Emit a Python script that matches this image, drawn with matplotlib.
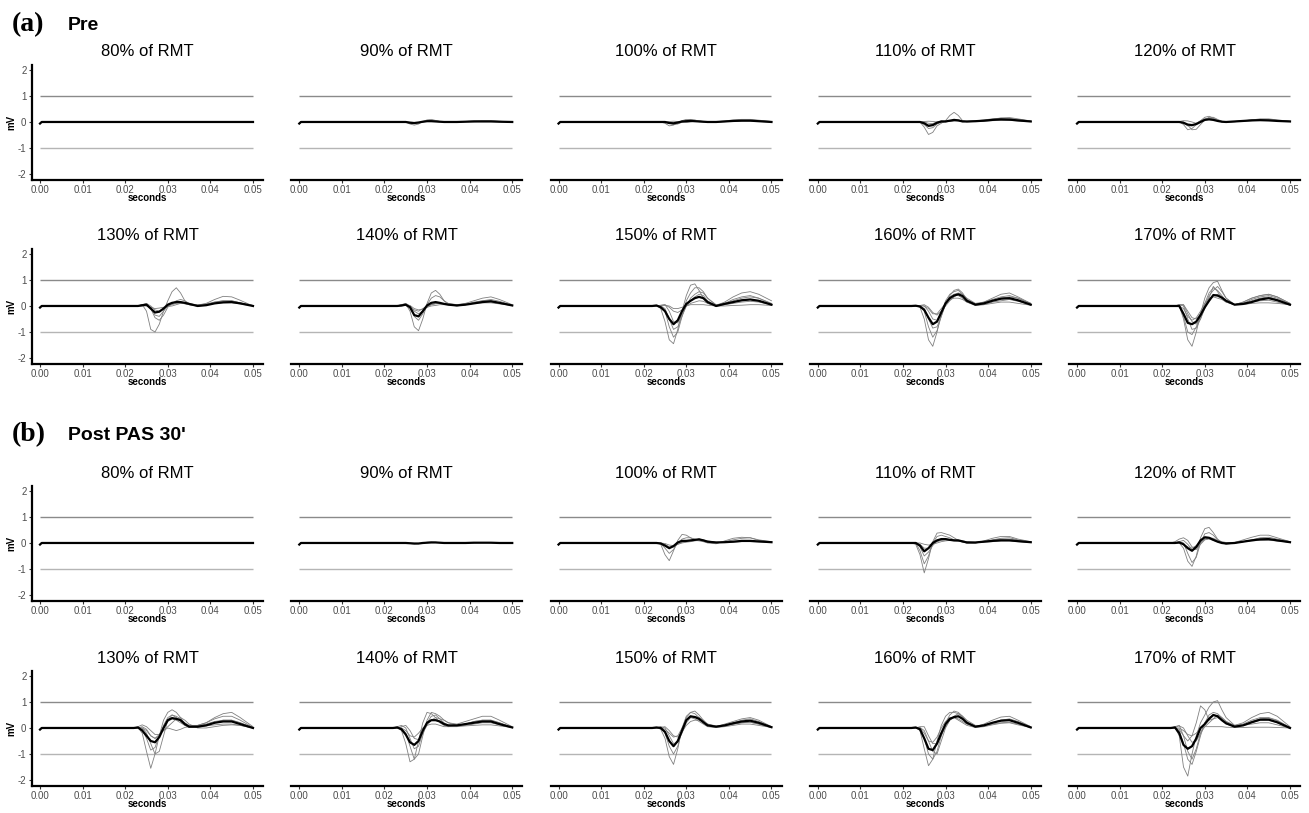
import matplotlib
matplotlib.use("Agg")
import matplotlib.pyplot as plt

# ---------------- data ----------------
LEVELS = ["80% of RMT", "90% of RMT", "100% of RMT", "110% of RMT", "120% of RMT",
          "130% of RMT", "140% of RMT", "150% of RMT", "160% of RMT", "170% of RMT"]
SECTION_TAGS = ["(a)", "(b)"]
SECTION_NAMES = ["Pre", "Post PAS 30'"]
X_TICKS = [0.00, 0.01, 0.02, 0.03, 0.04, 0.05]
X_TICK_LABELS = ["0.00", "0.01", "0.02", "0.03", "0.04", "0.05"]
Y_TICKS = [-2, -1, 0, 1, 2]
Y_TICK_LABELS = ["-2", "-1", "0", "1", "2"]
REF_LEVELS = [1, -1]

ONSET_T = [0.0, 0.0004]
ONSET_MV = [-0.06, 0.0]
TIME = [0.022, 0.023, 0.024, 0.025, 0.026, 0.027, 0.028, 0.029, 0.030, 0.031, 0.032,
        0.033, 0.034, 0.035, 0.037, 0.039, 0.041, 0.043, 0.045, 0.047, 0.050]

# each panel: first trace = mean (black), rest = single trials (grey)
pre_080 = [
    [0,0,0,0,0,0,0,0,0,0,0,0,0,0,0,0,0,0,0,0,0],
    [0,0,0,0,0,0.01,0.01,0.02,0.02,0.01,0,0,0,0,0,0.01,0.01,0.01,0.01,0,0],
    [0,0,0,0,-0.01,-0.02,-0.01,0,0.01,0.01,0.01,0,0,0,0,0,0,0,0,0,0],
]
pre_090 = [
    [0,0,0,0,-0.03,-0.04,-0.02,0.01,0.03,0.03,0.02,0.01,0,0,0,0.01,0.02,0.02,0.02,0.01,0],
    [0,0,0,0,-0.08,-0.12,-0.08,0.02,0.08,0.1,0.06,0.02,0,0,0,0.02,0.04,0.05,0.04,0.02,0],
    [0,0,0,0,-0.02,-0.05,-0.04,0,0.04,0.06,0.05,0.02,0.01,0,0,0.02,0.03,0.04,0.05,0.03,0],
    [0,0,0,0,0,-0.02,-0.03,0,0.02,0.03,0.02,0,0,0,0,0.01,0.01,0.02,0.02,0.01,0],
]
pre_100 = [
    [0,0,0,0,-0.04,-0.05,-0.02,0.02,0.03,0.04,0.03,0.02,0.01,0,0,0.02,0.04,0.05,0.05,0.03,0],
    [0,0,0,-0.05,-0.15,-0.12,-0.03,0.05,0.1,0.08,0.04,0.01,0,0,0.01,0.04,0.08,0.1,0.1,0.07,0.02],
    [0,0,0,0,-0.05,-0.1,-0.08,0,0.06,0.1,0.08,0.03,0.01,0,0,0.02,0.05,0.07,0.07,0.05,0],
    [0,0,0,0,0.02,0.03,0.02,0,-0.02,0,0.03,0.04,0.02,0,0,0.02,0.03,0.05,0.06,0.05,0.02],
    [0,0,0,0,-0.02,-0.05,-0.05,-0.02,0.02,0.04,0.05,0.04,0.02,0.01,0,0.01,0.03,0.04,0.04,0.02,0],
]
pre_110 = [
    [0,0,0,-0.05,-0.15,-0.12,-0.03,0.02,0.02,0.05,0.08,0.06,0.02,0.02,0.03,0.05,0.08,0.1,0.09,0.06,0.02],
    [0,0,0,-0.2,-0.48,-0.4,-0.15,-0.05,0.05,0.25,0.37,0.25,0.05,0,0.02,0.05,0.1,0.12,0.1,0.06,0.02],
    [0,0,0,-0.1,-0.25,-0.22,-0.08,0,0,0.03,0.08,0.08,0.04,0.02,0.04,0.08,0.12,0.15,0.14,0.1,0.03],
    [0,0,0,-0.05,-0.12,-0.1,-0.02,0.03,0.02,0.02,0.05,0.06,0.04,0.02,0.02,0.05,0.1,0.15,0.17,0.12,0.04],
    [0,0,0,0,-0.05,-0.06,0,0.04,0.03,0.02,0.03,0.04,0.03,0.02,0.03,0.04,0.06,0.07,0.07,0.05,0.02],
    [0,0,0,0.02,0.03,0.02,0,-0.02,0.02,0.05,0.06,0.05,0.02,0.01,0.02,0.03,0.05,0.06,0.06,0.04,0.02],
]
pre_120 = [
    [0,0,0,-0.03,-0.1,-0.12,-0.08,0,0.08,0.1,0.08,0.04,0.01,0,0.02,0.04,0.06,0.07,0.06,0.04,0.02],
    [0,0,0.02,-0.1,-0.3,-0.25,-0.1,0.05,0.18,0.22,0.15,0.06,0,0,0.02,0.05,0.08,0.1,0.08,0.05,0.02],
    [0,0,0,0,-0.12,-0.3,-0.28,-0.1,0.08,0.18,0.18,0.1,0.03,0,0.02,0.04,0.07,0.09,0.09,0.06,0.02],
    [0,0,0.02,0.05,0.04,0,-0.05,0.03,0.1,0.12,0.1,0.05,0.02,0,0.01,0.03,0.05,0.07,0.08,0.06,0.03],
    [0,0,0,-0.05,-0.15,-0.15,-0.05,0.05,0.12,0.15,0.12,0.06,0.02,0,0.01,0.04,0.08,0.12,0.12,0.08,0.03],
]
pre_130 = [
    [0,0,0.03,0.05,-0.1,-0.25,-0.22,-0.1,0.05,0.12,0.15,0.15,0.12,0.08,0,0.03,0.1,0.14,0.15,0.1,0.0],
    [0,0,0.05,-0.2,-0.9,-1.0,-0.7,-0.2,0.2,0.55,0.7,0.5,0.2,0.05,0,0.05,0.15,0.2,0.2,0.12,0],
    [0,0,0.05,0.08,-0.1,-0.45,-0.55,-0.35,-0.05,0.1,0.2,0.25,0.2,0.1,0.02,0.1,0.25,0.37,0.35,0.22,0],
    [0,0,0,0.05,-0.05,-0.35,-0.4,-0.2,0,0.1,0.15,0.12,0.08,0.05,0,0.05,0.1,0.12,0.12,0.08,0],
    [0,0,0.05,0.1,0,-0.15,-0.2,-0.1,0,0.05,0.1,0.12,0.1,0.05,0.02,0.05,0.1,0.15,0.15,0.1,0.02],
    [0,0,0,0,-0.05,-0.1,-0.08,-0.05,-0.02,0,0.05,0.1,0.1,0.08,0.05,0.08,0.15,0.2,0.2,0.12,0.02],
]
pre_140 = [
    [0,0,0.02,0.05,-0.05,-0.35,-0.4,-0.2,0.02,0.12,0.15,0.12,0.08,0.05,0.02,0.05,0.1,0.15,0.18,0.12,0.02],
    [0,0,0.05,0.08,-0.2,-0.8,-0.95,-0.5,0.1,0.5,0.6,0.45,0.2,0.05,0,0.05,0.15,0.2,0.2,0.12,0.02],
    [0,0,0,0.05,0,-0.4,-0.55,-0.3,0.05,0.3,0.4,0.35,0.2,0.1,0.05,0.1,0.2,0.3,0.35,0.25,0.05],
    [0,0,0.05,0.1,0,-0.2,-0.3,-0.2,-0.05,0.05,0.1,0.1,0.08,0.05,0.02,0.05,0.12,0.2,0.25,0.18,0.03],
    [0,0,0,0.02,-0.05,-0.15,-0.2,-0.1,0,0.05,0.08,0.1,0.1,0.08,0.05,0.08,0.12,0.15,0.15,0.1,0.02],
    [0,0,0.03,0.05,0.02,-0.1,-0.15,-0.12,-0.05,0,0.02,0.05,0.05,0.05,0.03,0.05,0.1,0.12,0.12,0.08,0.02],
]
pre_150 = [
    [0,0.02,-0.05,-0.2,-0.5,-0.7,-0.55,-0.2,0.08,0.2,0.3,0.35,0.3,0.15,0,0.08,0.15,0.22,0.25,0.2,0.05],
    [0,0.02,-0.1,-0.6,-1.3,-1.45,-0.9,-0.2,0.4,0.8,0.85,0.6,0.3,0.1,0,0.1,0.2,0.3,0.35,0.3,0.1],
    [0,0,0.02,-0.2,-0.8,-1.2,-1.0,-0.4,0.2,0.5,0.7,0.7,0.55,0.3,0.02,0.15,0.35,0.5,0.55,0.45,0.2],
    [0,0,0,-0.1,-0.5,-0.9,-0.8,-0.4,0,0.3,0.45,0.55,0.5,0.3,0.05,0.1,0.25,0.35,0.4,0.3,0.08],
    [0,0,0.02,0.05,-0.2,-0.6,-0.65,-0.35,0,0.2,0.35,0.45,0.4,0.2,0,0.08,0.15,0.2,0.25,0.2,0.05],
    [0,0,0.03,0.05,-0.05,-0.2,-0.25,-0.15,0,0.1,0.15,0.2,0.18,0.1,0,0.05,0.1,0.15,0.18,0.15,0.05],
    [0,0,0,0.02,0,-0.1,-0.1,-0.05,0,0.05,0.05,0.05,0.05,0.03,0,0,0.02,0.03,0.05,0.05,0.02],
]
pre_160 = [
    [0,0.01,-0.02,-0.15,-0.45,-0.7,-0.6,-0.25,0.1,0.3,0.4,0.45,0.38,0.2,0.05,0.1,0.2,0.28,0.3,0.22,0.05],
    [0,0.01,-0.05,-0.5,-1.3,-1.55,-1.0,-0.3,0.2,0.45,0.55,0.6,0.45,0.2,0.05,0.1,0.2,0.3,0.3,0.2,0.05],
    [0,0,0,-0.2,-0.8,-1.2,-0.95,-0.4,0.1,0.4,0.6,0.65,0.5,0.25,0.05,0.15,0.3,0.45,0.5,0.35,0.1],
    [0,0,0,-0.1,-0.5,-0.85,-0.8,-0.4,0.05,0.3,0.45,0.5,0.45,0.3,0.1,0.15,0.25,0.35,0.4,0.3,0.1],
    [0,0,0.02,0,-0.2,-0.5,-0.55,-0.25,0.1,0.35,0.45,0.4,0.3,0.15,0.02,0.05,0.15,0.2,0.25,0.18,0.05],
    [0,0,0.02,0.05,-0.05,-0.25,-0.35,-0.2,0,0.2,0.35,0.45,0.4,0.25,0.08,0.1,0.2,0.3,0.35,0.3,0.1],
    [0,0,0,0,-0.1,-0.3,-0.3,-0.1,0.1,0.25,0.3,0.3,0.25,0.15,0.05,0.05,0.1,0.15,0.15,0.1,0.03],
]
pre_170 = [
    [0,0,0,-0.3,-0.65,-0.7,-0.6,-0.35,-0.05,0.2,0.42,0.4,0.32,0.2,0.05,0.08,0.15,0.25,0.3,0.22,0.05],
    [0,0,0.02,-0.5,-1.3,-1.55,-1.0,-0.3,0.3,0.7,0.9,0.95,0.6,0.3,0.05,0.1,0.2,0.3,0.35,0.25,0.05],
    [0,0,0,-0.4,-1.0,-1.1,-0.8,-0.4,0.1,0.5,0.7,0.6,0.4,0.2,0.05,0.15,0.3,0.4,0.45,0.35,0.1],
    [0,0,0.05,0,-0.5,-0.9,-0.85,-0.5,0,0.4,0.6,0.75,0.55,0.3,0.05,0.15,0.3,0.4,0.45,0.35,0.1],
    [0,0,0.05,0.05,-0.3,-0.6,-0.7,-0.5,-0.1,0.3,0.75,0.55,0.3,0.15,0.05,0.1,0.25,0.35,0.4,0.3,0.08],
    [0,0,0.03,0.05,-0.2,-0.45,-0.5,-0.3,0,0.25,0.4,0.45,0.35,0.2,0.05,0.05,0.1,0.12,0.12,0.1,0.05],
    [0,0,0,-0.1,-0.4,-0.55,-0.45,-0.2,0.1,0.3,0.35,0.3,0.25,0.15,0.05,0.08,0.15,0.2,0.22,0.15,0.03],
]

post_080 = [
    [0,0,0,0,0,0,0,0,0,0,0,0,0,0,0,0,0,0,0,0,0],
    [0,0,0,0,0,-0.01,-0.01,0,0.01,0.01,0.01,0,0,0,0,0,0.01,0.01,0,0,0],
]
post_090 = [
    [0,0,0,0,-0.01,-0.02,-0.02,0,0.01,0.02,0.02,0.01,0,0,0,0,0.01,0.01,0.01,0,0],
    [0,0,0,0,-0.02,-0.04,-0.03,0,0.03,0.04,0.03,0.01,0,0,0,0.01,0.01,0.02,0.01,0,0],
]
post_100 = [
    [0,0,-0.02,-0.1,-0.2,-0.12,0.02,0.08,0.08,0.1,0.12,0.14,0.1,0.05,0.02,0.03,0.05,0.08,0.08,0.06,0.03],
    [0,0,-0.05,-0.45,-0.68,-0.3,0.1,0.33,0.3,0.2,0.1,0.08,0.05,0,-0.03,0.08,0.18,0.22,0.2,0.1,0.03],
    [0,0,-0.02,-0.2,-0.4,-0.25,0,0.15,0.2,0.2,0.15,0.12,0.08,0.03,0,0.05,0.12,0.18,0.2,0.12,0.05],
    [0,0,0,-0.05,-0.15,-0.15,-0.05,0.02,0.05,0.08,0.12,0.15,0.12,0.08,0.03,0.03,0.05,0.06,0.06,0.05,0.03],
    [0,0,0,-0.02,-0.08,-0.1,-0.05,0,0.03,0.05,0.08,0.1,0.1,0.05,0.02,0.02,0.03,0.05,0.05,0.04,0.02],
]
post_110 = [
    [0,0,-0.1,-0.32,-0.2,0,0.1,0.15,0.15,0.12,0.1,0.1,0.06,0.02,0.02,0.05,0.08,0.1,0.1,0.07,0.03],
    [0,-0.05,-0.45,-1.15,-0.6,0.05,0.38,0.4,0.35,0.3,0.2,0.1,0.05,0,0,0.05,0.1,0.12,0.1,0.06,0.02],
    [0,0,-0.3,-0.8,-0.5,0,0.25,0.3,0.25,0.2,0.12,0.08,0.03,0,0,0.08,0.18,0.25,0.25,0.15,0.05],
    [0,0,-0.15,-0.5,-0.35,-0.1,0.1,0.15,0.15,0.12,0.1,0.1,0.05,0.02,0,0.05,0.12,0.18,0.2,0.12,0.03],
    [0,0,-0.05,-0.2,-0.2,-0.05,0.05,0.1,0.12,0.12,0.1,0.1,0.08,0.05,0.02,0.05,0.1,0.15,0.15,0.1,0.03],
    [0,0,0,-0.05,-0.08,-0.05,0,0.05,0.08,0.1,0.08,0.06,0.05,0.03,0.02,0.03,0.05,0.08,0.08,0.05,0.02],
]
post_120 = [
    [0,0,0.02,-0.05,-0.2,-0.3,-0.15,0.1,0.22,0.2,0.12,0.05,0,-0.02,0,0.05,0.1,0.14,0.15,0.1,0.03],
    [0,0,0,-0.2,-0.7,-0.9,-0.5,0.2,0.55,0.6,0.4,0.15,0.02,-0.05,0,0.05,0.1,0.15,0.15,0.1,0.03],
    [0,0,0.05,0,-0.4,-0.75,-0.55,0,0.35,0.4,0.3,0.12,0.02,-0.02,0.02,0.12,0.22,0.3,0.3,0.2,0.05],
    [0,0.05,0.15,0.2,0.1,-0.15,-0.2,0,0.15,0.2,0.15,0.05,0,0,0,0.05,0.12,0.2,0.22,0.15,0.05],
    [0,0,0.05,0.1,-0.05,-0.25,-0.25,-0.05,0.12,0.15,0.1,0.05,0.02,0,0,0.05,0.08,0.1,0.1,0.08,0.03],
    [0,0,0,-0.05,-0.15,-0.2,-0.1,0.05,0.15,0.2,0.18,0.1,0.05,0.02,0.02,0.05,0.1,0.12,0.12,0.08,0.03],
]
post_130 = [
    [0,0.02,-0.1,-0.3,-0.5,-0.55,-0.35,0,0.3,0.38,0.35,0.3,0.15,0.05,0.05,0.1,0.2,0.25,0.25,0.15,0],
    [0,0.02,-0.2,-0.9,-1.55,-1.0,-0.3,0.3,0.6,0.7,0.6,0.4,0.15,0.05,0.1,0.2,0.4,0.55,0.6,0.4,0.05],
    [0,0,0,-0.2,-0.6,-1.0,-0.9,-0.3,0.3,0.5,0.45,0.35,0.2,0.1,0.1,0.2,0.35,0.45,0.45,0.3,0.02],
    [0,0,-0.05,-0.4,-0.85,-0.75,-0.3,0.1,0.4,0.5,0.4,0.25,0.1,0.02,0.02,0.1,0.2,0.3,0.3,0.2,0],
    [0,0.05,0.12,0.05,-0.1,-0.25,-0.25,-0.1,0.05,0.2,0.35,0.4,0.3,0.15,0,0,0.05,0.1,0.12,0.1,0],
    [0,0,0.05,-0.05,-0.3,-0.4,-0.25,-0.1,0,-0.05,-0.1,-0.05,0.02,0.05,0.05,0.08,0.12,0.15,0.15,0.1,0],
    [0,0,0,-0.1,-0.3,-0.4,-0.3,0,0.25,0.35,0.3,0.2,0.1,0.05,0.08,0.15,0.25,0.3,0.3,0.2,0.02],
]
post_140 = [
    [0,0.02,-0.05,-0.25,-0.55,-0.65,-0.5,-0.1,0.2,0.3,0.3,0.25,0.15,0.1,0.1,0.15,0.2,0.25,0.25,0.15,0.02],
    [0,0.02,-0.1,-0.6,-1.3,-1.2,-0.5,0.2,0.6,0.55,0.4,0.2,0.1,0.05,0.1,0.15,0.25,0.3,0.3,0.2,0.02],
    [0,0,0,-0.2,-0.7,-1.2,-1.0,-0.3,0.3,0.6,0.55,0.45,0.3,0.2,0.15,0.25,0.35,0.45,0.45,0.3,0.05],
    [0,0.05,0.1,0,-0.4,-0.8,-0.7,-0.2,0.2,0.45,0.5,0.35,0.2,0.1,0.08,0.15,0.25,0.3,0.3,0.2,0.02],
    [0,0,0.05,0.1,-0.1,-0.4,-0.45,-0.2,0.1,0.3,0.4,0.35,0.3,0.2,0.1,0.1,0.15,0.2,0.2,0.12,0.02],
    [0,0,0,-0.1,-0.3,-0.35,-0.2,0,0.1,0.15,0.15,0.1,0.05,0.05,0.05,0.08,0.1,0.12,0.12,0.08,0.02],
]
post_150 = [
    [0,0.02,0,-0.15,-0.5,-0.7,-0.5,-0.1,0.3,0.45,0.42,0.35,0.22,0.1,0.05,0.1,0.18,0.25,0.28,0.2,0.03],
    [0,0.02,-0.05,-0.4,-1.1,-1.4,-0.8,0,0.45,0.6,0.65,0.5,0.3,0.1,0.05,0.1,0.2,0.3,0.35,0.25,0.05],
    [0,0,0,-0.2,-0.7,-1.0,-0.7,-0.1,0.4,0.6,0.55,0.4,0.25,0.1,0.05,0.15,0.25,0.35,0.4,0.3,0.05],
    [0,0,0.05,0,-0.3,-0.6,-0.55,-0.2,0.2,0.4,0.45,0.4,0.3,0.15,0.05,0.08,0.15,0.2,0.22,0.15,0.02],
    [0,0,0.02,0.05,-0.1,-0.3,-0.35,-0.15,0.1,0.25,0.3,0.3,0.25,0.15,0.08,0.1,0.15,0.2,0.22,0.15,0.02],
    [0,0,0,-0.05,-0.2,-0.35,-0.3,0,0.3,0.4,0.35,0.25,0.15,0.05,0.02,0.05,0.1,0.15,0.15,0.1,0.02],
]
post_160 = [
    [0,0.02,-0.05,-0.4,-0.8,-0.85,-0.6,-0.2,0.15,0.35,0.42,0.45,0.35,0.2,0.05,0.1,0.2,0.28,0.3,0.2,0.02],
    [0,0.02,-0.1,-0.8,-1.45,-1.2,-0.5,0.1,0.45,0.6,0.6,0.55,0.4,0.2,0.05,0.1,0.2,0.3,0.3,0.2,0.02],
    [0,0,0,-0.4,-1.0,-1.2,-0.9,-0.3,0.2,0.5,0.65,0.6,0.45,0.25,0.05,0.15,0.3,0.42,0.45,0.3,0.05],
    [0,0,0.02,-0.1,-0.5,-0.9,-1.0,-0.5,0,0.3,0.45,0.55,0.45,0.3,0.1,0.1,0.2,0.3,0.35,0.25,0.05],
    [0,0,0.05,0.05,-0.3,-0.6,-0.6,-0.3,0.05,0.3,0.4,0.35,0.25,0.15,0.05,0.08,0.15,0.2,0.22,0.15,0.02],
    [0,0,0,-0.2,-0.5,-0.55,-0.35,0,0.25,0.4,0.4,0.3,0.2,0.1,0.02,0.05,0.12,0.18,0.2,0.12,0.02],
]
post_170 = [
    [0,0.02,-0.2,-0.65,-0.8,-0.7,-0.4,0,0.15,0.35,0.5,0.45,0.3,0.18,0.05,0.1,0.22,0.32,0.32,0.22,0],
    [0,0.02,-0.3,-1.5,-1.85,-1.0,-0.3,0.2,0.5,0.8,1.0,1.05,0.7,0.4,0.1,0.15,0.3,0.4,0.4,0.3,0.02],
    [0,0,-0.1,-0.6,-1.2,-1.4,-0.9,-0.3,0.2,0.5,0.6,0.55,0.4,0.25,0.1,0.2,0.4,0.55,0.6,0.45,0.05],
    [0,0.05,0.1,-0.3,-0.9,-1.2,-0.8,-0.2,0.2,0.4,0.5,0.45,0.35,0.2,0.05,0.1,0.25,0.35,0.38,0.28,0],
    [0,0,-0.05,-0.3,-0.5,-0.3,0.2,0.85,0.7,0.3,0.35,0.4,0.3,0.15,0.05,0.1,0.2,0.3,0.3,0.2,0],
    [0,0.03,0.08,0,-0.3,-0.55,-0.5,-0.2,0.05,0.2,0.35,0.5,0.4,0.25,0.08,0.1,0.15,0.2,0.2,0.12,0],
    [0,0,0,-0.1,-0.25,-0.3,-0.2,0,0.05,0.05,0.05,0.05,0.05,0.03,0.02,0.02,0.03,0.03,0.03,0.02,0],
]

PRE = [pre_080, pre_090, pre_100, pre_110, pre_120, pre_130, pre_140, pre_150, pre_160, pre_170]
POST = [post_080, post_090, post_100, post_110, post_120, post_130, post_140, post_150, post_160, post_170]

# ---------------- layout ----------------
W, H = 1309, 813
fig = plt.figure(figsize=(W / 100, H / 100), dpi=100)
fig.patch.set_facecolor("white")

SANS = "Liberation Sans"
ROW_TOPS = [65, 249, 486, 671]
AX_H = 115
AX_W = 231
COL_LEFTS = [32 + 259.25 * k for k in range(5)]
XLIM = (-0.00188, 0.05235)
YLIM = (-2.23, 2.19)

full_t = ONSET_T + TIME

for sec, data in enumerate([PRE, POST]):
    for idx, traces in enumerate(data):
        r = sec * 2 + idx // 5
        c = idx % 5
        top = ROW_TOPS[r]
        left = COL_LEFTS[c]
        ax = fig.add_axes([left / W, 1 - (top + AX_H) / H, AX_W / W, AX_H / H])
        ax.set_xlim(*XLIM)
        ax.set_ylim(*YLIM)
        ax.hlines(REF_LEVELS[0], 0, 0.05, color="#8a8a8a", lw=1.0, zorder=1)
        ax.hlines(REF_LEVELS[1], 0, 0.05, color="#b5b5b5", lw=1.0, zorder=1)
        for tr in traces[1:]:
            ax.plot(full_t, ONSET_MV + tr, color="#808080", lw=0.6, zorder=2)
        ax.plot(full_t, ONSET_MV + traces[0], color="black", lw=1.6, zorder=3)

        for s in ["top", "right"]:
            ax.spines[s].set_visible(False)
        ax.spines["bottom"].set_linewidth(1.6)
        ax.spines["bottom"].set_color("black")
        ax.set_xticks(X_TICKS)
        ax.set_xticklabels(X_TICK_LABELS, fontsize=7, color="#4d4d4d", family=SANS)
        ax.tick_params(axis="x", length=2.5, width=0.8, color="#333333", pad=1.0)
        if c == 0:
            ax.spines["left"].set_linewidth(1.6)
            ax.spines["left"].set_color("black")
            ax.set_yticks(Y_TICKS)
            ax.set_yticklabels(Y_TICK_LABELS, fontsize=7, color="#4d4d4d", family=SANS)
            ax.tick_params(axis="y", length=2.5, width=0.8, color="#333333", pad=1.5)
            ax.set_ylabel("mV", fontsize=7, fontweight="bold", family=SANS, labelpad=1)
        else:
            ax.spines["left"].set_visible(False)
            ax.set_yticks([])
        ax.set_xlabel("seconds", fontsize=7, fontweight="bold", family=SANS, labelpad=-1)
        ax.text(0.5, 1 + 13 / AX_H, LEVELS[idx], transform=ax.transAxes,
                ha="center", va="center", fontsize=12, family=SANS)

# section headings
for sec, ytop in enumerate([25, 435]):
    fig.text(12 / W, 1 - ytop / H, SECTION_TAGS[sec], ha="left", va="center",
             fontsize=20, fontweight="bold", family="Liberation Serif")
    fig.text(68 / W, 1 - ytop / H, SECTION_NAMES[sec], ha="left", va="center",
             fontsize=14, fontweight="bold", family=SANS)

fig.savefig("out.png", dpi=100, facecolor="white")
